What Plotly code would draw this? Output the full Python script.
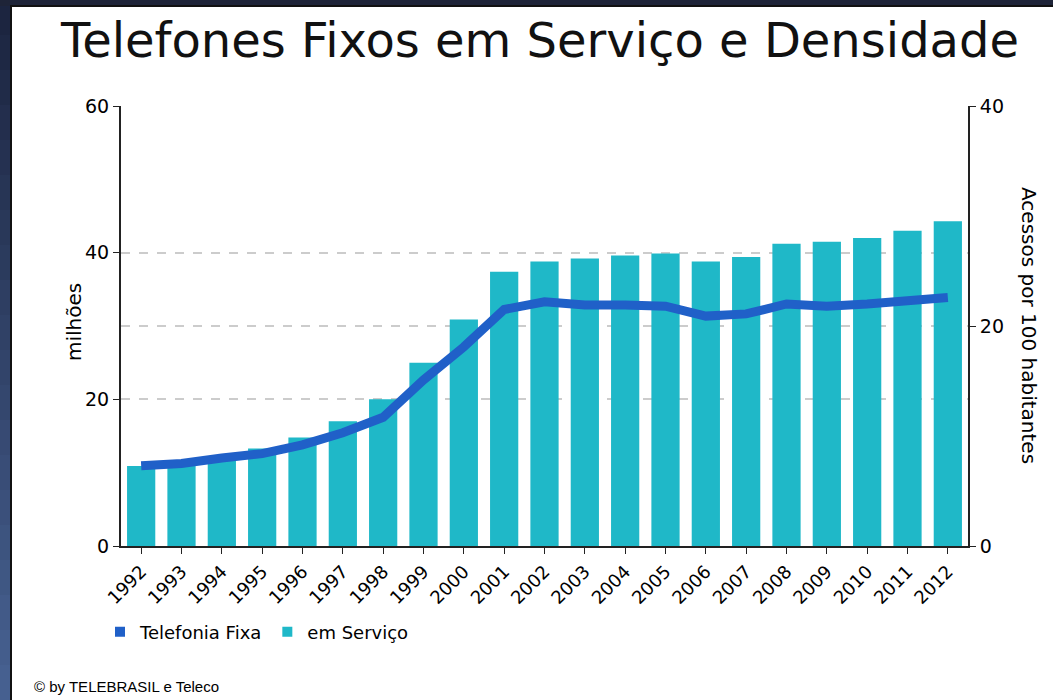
import plotly.graph_objects as go

years = [str(y) for y in range(1992, 2013)]
em_servico = [10.9, 11.3, 12.1, 13.3, 14.8, 17.0, 20.0, 25.0, 30.9, 37.4, 38.8,
              39.2, 39.6, 39.9, 38.8, 39.4, 41.2, 41.5, 42.0, 43.0, 44.3]
densidade = [7.3, 7.5, 8.0, 8.4, 9.2, 10.3, 11.7, 15.1, 18.1, 21.5, 22.2,
             21.9, 21.9, 21.8, 20.9, 21.1, 22.0, 21.8, 22.0, 22.2, 22.6]
left_ticks = [0, 20, 40, 60]
right_ticks = [0, 20, 40]

W, H = 1053, 700
L, R, T, B = 121, 968, 106, 546

def px(x):
    return (x - L) / (R - L)

def py(y):
    return (B - y) / (B - T)

BAR = "#1fb8c8"
LINE = "#2060c8"
FONT = "DejaVu Sans"

fig = go.Figure()
fig.add_trace(go.Bar(x=years, y=em_servico, marker=dict(color=BAR, line=dict(width=0)),
                     showlegend=False, yaxis="y"))
fig.add_trace(go.Scatter(x=years, y=densidade, mode="lines", line=dict(color=LINE, width=9),
                         showlegend=False, yaxis="y2"))
# legend entries with square symbols
fig.add_trace(go.Scatter(x=[None], y=[None], mode="markers", name="Telefonia Fixa",
                         marker=dict(symbol="square", size=10, color=LINE)))
fig.add_trace(go.Scatter(x=[None], y=[None], mode="markers", name="em Serviço",
                         marker=dict(symbol="square", size=10, color=BAR)))

shapes = []
# dark left strip gradient
n = 20
c0 = (0x1c, 0x25, 0x40)
c1 = (0x46, 0x60, 0x90)
for i in range(n):
    t = i / (n - 1)
    c = tuple(int(round(c0[k] + (c1[k] - c0[k]) * t)) for k in range(3))
    shapes.append(dict(type="rect", xref="paper", yref="paper", layer="below",
                       x0=px(-5), x1=px(12), y0=py(i * H / n), y1=py((i + 1) * H / n + 1),
                       fillcolor="rgb(%d,%d,%d)" % c, line=dict(width=0)))
# top strip
shapes.append(dict(type="rect", xref="paper", yref="paper", layer="below",
                   x0=px(-5), x1=px(W + 5), y0=py(-5), y1=py(6),
                   fillcolor="#1e2438", line=dict(width=0)))
# white panel
shapes.append(dict(type="rect", xref="paper", yref="paper", layer="below",
                   x0=px(11), x1=px(W + 5), y0=py(6), y1=py(H + 5),
                   fillcolor="white", line=dict(color="#111111", width=2)))

annotations = [
    dict(text="milhões", textangle=-90, xref="paper", yref="paper",
         x=px(60), y=py(322), showarrow=False, font=dict(family=FONT, size=20, color="black")),
    dict(text="Acessos por 100 habitantes", textangle=90, xref="paper", yref="paper",
         x=px(1043), y=py(325), showarrow=False, font=dict(family=FONT, size=20, color="black")),
    dict(text="© by TELEBRASIL e Teleco", xref="paper", yref="paper",
         x=px(32), y=py(686), xanchor="left", yanchor="middle", showarrow=False,
         font=dict(family="Liberation Sans Narrow, Liberation Sans", size=15, color="black")),
]

fig.update_layout(
    width=W, height=H,
    margin=dict(l=L, r=W - R, t=T, b=H - B, autoexpand=False),
    paper_bgcolor="#26314f",
    plot_bgcolor="rgba(0,0,0,0)",
    title=dict(text="Telefones Fixos em Serviço e Densidade", x=540 / W, xanchor="center",
               y=1 - 40 / H, yanchor="middle", xref="container", yref="container",
               font=dict(family=FONT, size=48, color="#111111")),
    bargap=0.3,
    font=dict(family=FONT, size=18, color="black"),
    xaxis=dict(type="category", tickangle=-45, ticks="outside", ticklen=6, tickcolor="#222",
               showline=True, linecolor="#222", linewidth=2, showgrid=False,
               tickfont=dict(family=FONT, size=18, color="black"), automargin=False),
    yaxis=dict(range=[0, 60], tickvals=left_ticks, ticks="outside", ticklen=6, tickcolor="#222",
               showline=True, linecolor="#222", linewidth=2,
               showgrid=True, gridcolor="#cccccc", griddash="dash", gridwidth=1.5,
               zeroline=False, tickfont=dict(family=FONT, size=19, color="black"), automargin=False),
    yaxis2=dict(range=[0, 40], tickvals=right_ticks, overlaying="y", side="right",
                ticks="outside", ticklen=6, tickcolor="#222",
                showline=True, linecolor="#222", linewidth=2,
                showgrid=True, gridcolor="#cccccc", griddash="dash", gridwidth=1.5,
                zeroline=False, tickfont=dict(family=FONT, size=19, color="black"), automargin=False),
    legend=dict(orientation="h", x=px(100), y=py(632), xanchor="left", yanchor="middle",
                font=dict(family=FONT, size=18, color="black"), bgcolor="rgba(0,0,0,0)"),
    shapes=shapes,
    annotations=annotations,
)

fig.write_html("out.html", config={"displayModeBar": False},
               post_script="document.body.style.margin='0';document.body.style.overflow='hidden';")
